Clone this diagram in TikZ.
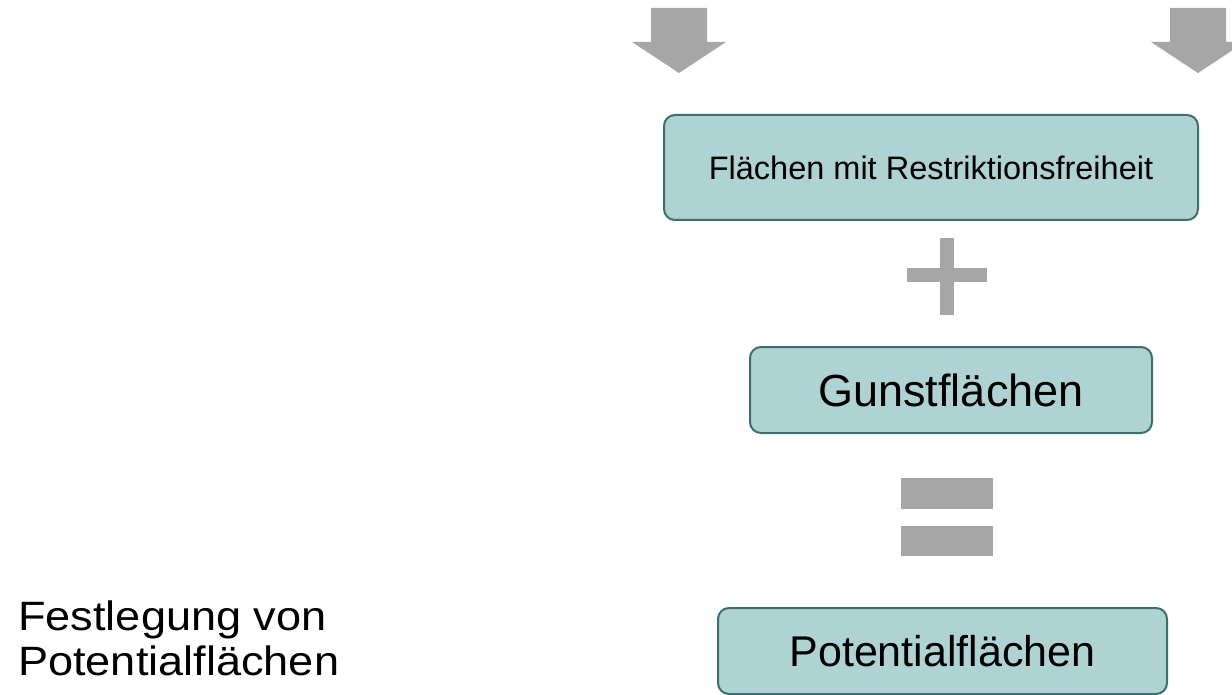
\documentclass[tikz,border=0pt]{standalone}
\usepackage{graphicx}
\usepackage{fontspec}
\setmainfont{Liberation Sans}
\definecolor{boxfill}{HTML}{AFD2D2}
\definecolor{boxline}{HTML}{3E6F6F}
\definecolor{symgrey}{HTML}{A6A6A6}
\tikzset{
  flowbox/.style={draw=boxline, line width=2pt, fill=boxfill, rounded corners=11pt,
    inner sep=0pt, align=center, text=black},
  symb/.style={fill=symgrey, draw=none},
}
\newcommand{\widetext}[1]{\scalebox{1.1}[1]{#1}}
\begin{document}
\begin{tikzpicture}[x=1pt,y=-1pt]
\useasboundingbox (0,0) rectangle (1232,695);
\clip (0,0) rectangle (1232,695);
% down arrows
\fill[symb] (651,8) -- (707,8) -- (707,42) -- (726,42) -- (679,73) -- (632,42) -- (651,42) -- cycle;
\fill[symb] (1170,8) -- (1226,8) -- (1226,42) -- (1245,42) -- (1198,73) -- (1151,42) -- (1170,42) -- cycle;
% boxes
\node[flowbox, minimum width=534pt, minimum height=105pt, font=\fontsize{32.5}{38}\selectfont] (restr) at (931,167.5) {Flächen mit Restriktionsfreiheit};
\node[flowbox, minimum width=402pt, minimum height=86pt, font=\fontsize{45}{50}\selectfont] (gunst) at (951,390) {Gunstflächen};
\node[flowbox, minimum width=449pt, minimum height=86pt, font=\fontsize{43}{50}\selectfont] (pot) at (942.5,651) {Potentialflächen};
% plus
\fill[symb] (940,238) rectangle (954,315);
\fill[symb] (907,268) rectangle (987,282);
% equals
\fill[symb] (901,478) rectangle (993,509);
\fill[symb] (901,526) rectangle (993,556);
% left title
\node[anchor=base west, align=left, inner sep=0pt, font=\fontsize{41}{45}\selectfont] (title) at (18,675) {\widetext{Festlegung von}\\\widetext{Potentialflächen}};
\end{tikzpicture}
\end{document}
